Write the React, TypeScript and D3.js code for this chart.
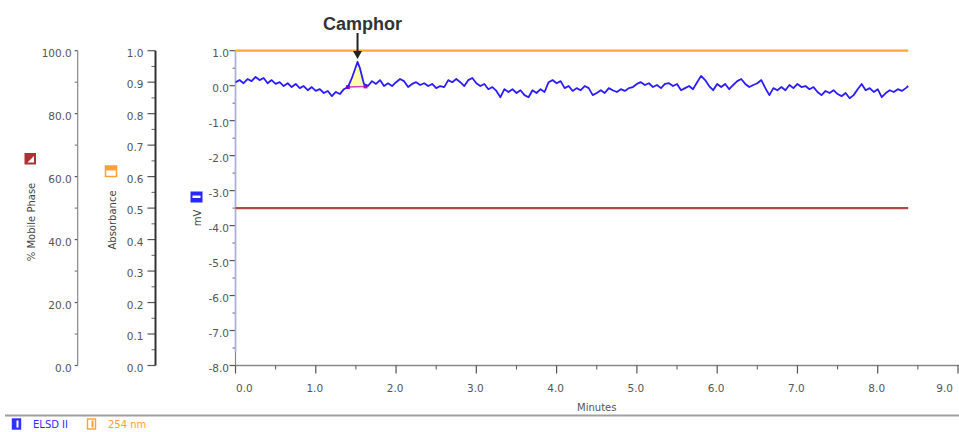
import React, { useEffect, useRef } from "react";
import * as d3 from "d3";

const width = 959;
const height = 432;

// ELSD II trace: [minutes, mV]
const elsdTrace: [number, number][] = [
  [0.0, 0.1], [0.05, 0.16], [0.1, 0.07], [0.15, 0.19], [0.2, 0.13], [0.25, 0.25],
  [0.3, 0.16], [0.35, 0.22], [0.4, 0.07], [0.45, 0.16], [0.5, 0.05], [0.55, 0.1],
  [0.6, -0.01], [0.65, 0.07], [0.7, -0.04], [0.75, 0.05], [0.8, -0.07], [0.85, -0.01],
  [0.9, -0.13], [0.95, -0.04], [1.0, -0.15], [1.05, -0.1], [1.1, -0.21], [1.15, -0.15],
  [1.2, -0.3], [1.25, -0.18], [1.3, -0.24], [1.35, -0.1], [1.4, -0.04], [1.45, 0.22],
  [1.5, 0.55], [1.52, 0.68], [1.55, 0.5], [1.6, 0.05], [1.65, -0.01], [1.7, 0.13],
  [1.75, 0.05], [1.8, 0.16], [1.85, -0.01], [1.9, 0.07], [1.95, -0.01], [2.0, 0.1],
  [2.05, 0.19], [2.1, 0.13], [2.15, -0.04], [2.2, 0.05], [2.25, 0.1], [2.3, 0.02],
  [2.35, 0.07], [2.4, -0.01], [2.45, 0.05], [2.5, -0.07], [2.55, -0.01], [2.6, -0.04],
  [2.65, 0.16], [2.7, 0.1], [2.75, 0.19], [2.8, 0.1], [2.85, -0.01], [2.9, 0.16],
  [2.95, 0.22], [3.0, 0.07], [3.05, -0.01], [3.1, 0.05], [3.15, -0.1], [3.2, -0.04],
  [3.25, -0.15], [3.3, -0.33], [3.35, -0.1], [3.4, -0.18], [3.45, -0.1], [3.5, -0.21],
  [3.55, -0.13], [3.6, -0.27], [3.65, -0.33], [3.7, -0.13], [3.75, -0.21], [3.8, -0.1],
  [3.85, -0.18], [3.9, 0.1], [3.95, 0.16], [4.0, 0.07], [4.05, 0.13], [4.1, -0.07],
  [4.15, -0.01], [4.2, -0.15], [4.25, -0.07], [4.3, -0.13], [4.35, -0.01], [4.4, -0.07],
  [4.45, -0.27], [4.5, -0.21], [4.55, -0.13], [4.6, -0.21], [4.65, -0.07], [4.7, -0.13],
  [4.75, -0.18], [4.8, -0.1], [4.85, -0.15], [4.9, -0.07], [4.95, -0.04], [5.0, 0.05],
  [5.05, 0.1], [5.1, 0.02], [5.15, 0.07], [5.2, -0.04], [5.25, 0.02], [5.3, -0.07],
  [5.35, 0.05], [5.4, 0.07], [5.45, -0.01], [5.5, 0.05], [5.55, -0.13], [5.6, -0.07],
  [5.65, -0.01], [5.7, -0.1], [5.75, 0.1], [5.8, 0.28], [5.85, 0.16], [5.9, -0.01],
  [5.95, -0.13], [6.0, 0.05], [6.05, -0.04], [6.1, 0.05], [6.15, -0.1], [6.2, 0.02],
  [6.25, 0.13], [6.3, 0.19], [6.35, 0.05], [6.4, -0.04], [6.45, 0.02], [6.5, 0.07],
  [6.55, 0.16], [6.6, -0.07], [6.65, -0.27], [6.7, -0.07], [6.75, -0.13], [6.8, -0.04],
  [6.85, -0.13], [6.9, 0.02], [6.95, -0.07], [7.0, 0.05], [7.05, -0.04], [7.1, -0.01],
  [7.15, -0.1], [7.2, -0.04], [7.25, -0.18], [7.3, -0.27], [7.35, -0.15], [7.4, -0.21],
  [7.45, -0.13], [7.5, -0.24], [7.55, -0.3], [7.6, -0.21], [7.65, -0.36], [7.7, -0.27],
  [7.75, -0.1], [7.8, 0.05], [7.85, -0.13], [7.9, -0.07], [7.95, -0.18], [8.0, -0.1],
  [8.05, -0.33], [8.1, -0.21], [8.15, -0.13], [8.2, -0.18], [8.25, -0.1], [8.3, -0.15],
  [8.35, -0.07], [8.38, -0.01],
];

// integration baseline under the camphor peak: [minutes, mV]
const peakBaseline: [number, number][] = [[1.4, -0.04], [1.62, -0.02]];
const peakApex: [number, number] = [1.52, 0.68];
const peakName = "Camphor";

// 254 nm absorbance (AU) and % mobile phase, both flat over the run
const abs254: [number, number][] = [[0, 1.0], [8.38, 1.0]];
const mobilePhase: [number, number][] = [[0, 50], [8.38, 50]];

const timeDomain = [0, 9];
const mvDomain = [-8, 1];
const absDomain = [0, 1];
const mpDomain = [0, 100];

const legendItems = [
  { label: "ELSD II", color: "#3030ff" },
  { label: "254 nm", color: "#ffa033" },
];

const FONT = "'DejaVu Sans', Verdana, sans-serif";

const Chromatogram = () => {
  const ref = useRef<SVGSVGElement>(null);

  useEffect(() => {
    const svg = d3.select(ref.current);
    svg.selectAll("*").remove();

    const m = { left: 235.5, right: 958, top: 50.7, bottom: 365.5 };

    const x = d3.scaleLinear().domain(timeDomain).range([m.left, m.right]);
    const yMv = d3.scaleLinear().domain(mvDomain).range([m.bottom, m.top]);
    const yAbs = d3.scaleLinear().domain(absDomain).range([m.bottom, m.top]);
    const yMp = d3.scaleLinear().domain(mpDomain).range([m.bottom, m.top]);

    // vertical axis with ticks to the left
    const vAxis = (scale: any, xPos: number, nMajor: number, nMinor: number,
      majorLen: number, minorLen: number, gap: number, lineColor: string, lineW: number) => {
      const g = svg.append("g");
      const majors: number[] = scale.ticks(nMajor);
      const minors: number[] = scale.ticks(nMinor).filter((t: number) => !majors.some((M) => Math.abs(M - t) < 1e-9));
      g.selectAll(".minor").data(minors).enter().append("line")
        .attr("x1", xPos - minorLen).attr("x2", xPos)
        .attr("y1", (d) => scale(d)).attr("y2", (d) => scale(d))
        .attr("stroke", "#666").attr("stroke-width", 1);
      g.selectAll(".major").data(majors).enter().append("line")
        .attr("x1", xPos - majorLen).attr("x2", xPos)
        .attr("y1", (d) => scale(d)).attr("y2", (d) => scale(d))
        .attr("stroke", "#555").attr("stroke-width", 1.2);
      g.selectAll(".lbl").data(majors).enter().append("text")
        .attr("x", xPos - gap).attr("y", (d) => scale(d) + 2.5).attr("dy", "0.35em")
        .attr("text-anchor", "end").attr("font-family", FONT).attr("font-size", 10.5)
        .attr("fill", "#555").text((d) => d.toFixed(1));
      g.append("line").attr("x1", xPos).attr("x2", xPos)
        .attr("y1", m.top).attr("y2", m.bottom)
        .attr("stroke", lineColor).attr("stroke-width", lineW);
      return g;
    };

    vAxis(yMp, 77.7, 5, 10, 3, 3, 6, "#888", 1.2);
    vAxis(yAbs, 155.5, 10, 20, 8, 4, 12, "#333", 2);
    const mvAxis = vAxis(yMv, m.left, 9, 18, 6, 3, 6.5, "#888", 1.2);
    mvAxis.append("line").attr("x1", m.left).attr("x2", m.left)
      .attr("y1", m.top).attr("y2", 352).attr("stroke", "#a8a8ff").attr("stroke-width", 1.5);

    // x axis
    const gx = svg.append("g");
    const xMajor = x.ticks(9);
    const xMinor = x.ticks(18).filter((t) => !xMajor.includes(t));
    gx.append("line").attr("x1", m.left).attr("x2", m.right + 1)
      .attr("y1", m.bottom).attr("y2", m.bottom).attr("stroke", "#888").attr("stroke-width", 1.5);
    gx.selectAll(".minor").data(xMinor).enter().append("line")
      .attr("x1", (d) => x(d)).attr("x2", (d) => x(d))
      .attr("y1", m.bottom).attr("y2", m.bottom + 4).attr("stroke", "#555");
    gx.selectAll(".major").data(xMajor).enter().append("line")
      .attr("x1", (d) => x(d)).attr("x2", (d) => x(d))
      .attr("y1", m.bottom).attr("y2", m.bottom + 8).attr("stroke", "#555").attr("stroke-width", 1.2);
    gx.selectAll(".lbl").data(xMajor).enter().append("text")
      .attr("x", (d, i) => (i === 0 ? x(d) + 0.5 : i === xMajor.length - 1 ? x(d) - 5 : x(d) - 1))
      .attr("y", m.bottom + 23).attr("dy", "0.35em")
      .attr("text-anchor", (d, i) => (i === 0 ? "start" : i === xMajor.length - 1 ? "end" : "middle"))
      .attr("font-family", FONT).attr("font-size", 10.5).attr("fill", "#555")
      .text((d) => d.toFixed(1));
    svg.append("text").attr("x", (m.left + m.right) / 2).attr("y", 407).attr("dy", "0.35em")
      .attr("text-anchor", "middle").attr("font-family", FONT).attr("font-size", 10)
      .attr("fill", "#555").text("Minutes");

    // axis titles with their series icons
    const title = (label: string, cx: number, cy: number) =>
      svg.append("text").attr("transform", `translate(${cx},${cy}) rotate(-90)`)
        .attr("dy", "0.35em").attr("text-anchor", "middle").attr("font-family", FONT)
        .attr("font-size", 10).attr("fill", "#444").text(label);
    title("% Mobile Phase", 31, 222);
    title("Absorbance", 112, 220);
    title("mV", 197, 218);

    svg.append("rect").attr("x", 25).attr("y", 153.5).attr("width", 10.5).attr("height", 10.5)
      .attr("fill", "#a83434").attr("stroke", "#a83434");
    svg.append("path").attr("d", "M27.5,162.5 L34,156 L34,162.5 Z").attr("fill", "#fff");

    svg.append("rect").attr("x", 105.5).attr("y", 166).attr("width", 11).attr("height", 10.5)
      .attr("fill", "#fff").attr("stroke", "#ffa033").attr("stroke-width", 1.5);
    svg.append("rect").attr("x", 105.5).attr("y", 166).attr("width", 11).attr("height", 4.5)
      .attr("fill", "#ffa033");

    svg.append("rect").attr("x", 190.5).attr("y", 191.5).attr("width", 12).attr("height", 11)
      .attr("fill", "#2626ff");
    svg.append("rect").attr("x", 192.5).attr("y", 195.5).attr("width", 8).attr("height", 2.5)
      .attr("fill", "#fff");

    const line = d3.line<[number, number]>();

    // flat 254 nm and mobile phase traces
    svg.append("path")
      .attr("d", line(abs254.map(([t, v]) => [x(t), yAbs(v)])))
      .attr("fill", "none").attr("stroke", "#ffa833").attr("stroke-width", 2.2);
    svg.append("path")
      .attr("d", line(mobilePhase.map(([t, v]) => [x(t), yMp(v)])))
      .attr("fill", "none").attr("stroke", "#b04848").attr("stroke-width", 2.2);

    // camphor peak area
    const [t0, t1] = [peakBaseline[0][0], peakBaseline[1][0]];
    const areaPts = elsdTrace.filter(([t]) => t >= t0 && t <= t1)
      .concat(peakBaseline.slice().reverse())
      .map(([t, v]) => [x(t), yMv(v)] as [number, number]);
    svg.append("path").attr("d", line(areaPts) + "Z").attr("fill", "#ffffb0");
    svg.append("path")
      .attr("d", line(peakBaseline.map(([t, v]) => [x(t), yMv(v)])))
      .attr("fill", "none").attr("stroke", "#d040c0").attr("stroke-width", 1.5);
    svg.selectAll(".pbm").data(peakBaseline).enter().append("rect")
      .attr("x", (d) => x(d[0]) - 2).attr("y", (d) => yMv(d[1]) - 2)
      .attr("width", 4).attr("height", 4).attr("fill", "#c000c0");

    // ELSD trace
    svg.append("path")
      .attr("d", line(elsdTrace.map(([t, v]) => [x(t), yMv(v)])))
      .attr("fill", "none").attr("stroke", "#2a1cff").attr("stroke-width", 1.8)
      .attr("stroke-linejoin", "round");

    // peak annotation
    const ax = x(peakApex[0]);
    const tipY = yMv(peakApex[1]) - 3;
    svg.append("line").attr("x1", ax).attr("x2", ax).attr("y1", 33).attr("y2", tipY - 6)
      .attr("stroke", "#222").attr("stroke-width", 2);
    svg.append("path")
      .attr("d", `M${ax - 4.5},${tipY - 8} L${ax + 4.5},${tipY - 8} L${ax},${tipY} Z`)
      .attr("fill", "#222");
    svg.append("text").attr("x", ax + 5).attr("y", 30).attr("text-anchor", "middle")
      .attr("font-family", "'Liberation Sans', Arial, sans-serif").attr("font-weight", "bold")
      .attr("font-size", 18).attr("fill", "#333").text(peakName);

    // bottom legend
    svg.append("line").attr("x1", 5).attr("x2", width).attr("y1", 415.5).attr("y2", 415.5)
      .attr("stroke", "#a0a0a0").attr("stroke-width", 2);
    const lg = svg.append("g");
    legendItems.forEach((item, i) => {
      const lx = 12.5 + i * 75;
      lg.append("rect").attr("x", lx).attr("y", 419).attr("width", 8).attr("height", 10)
        .attr("fill", i === 0 ? item.color : "#fff").attr("stroke", item.color).attr("stroke-width", 1.4);
      lg.append("rect").attr("x", lx + 4).attr("y", 420.5).attr("width", 2).attr("height", 7)
        .attr("fill", i === 0 ? "#fff" : item.color);
      lg.append("text").attr("x", lx + 20.5).attr("y", 424).attr("dy", "0.35em")
        .attr("font-family", FONT).attr("font-size", 10).attr("fill", item.color)
        .text(item.label);
    });
  }, []);

  return (
    <svg
      ref={ref}
      width={width}
      height={height}
      style={{ position: "absolute", left: 0, top: 0, background: "#fff" }}
    />
  );
};

export default function App() {
  return <Chromatogram />;
}
